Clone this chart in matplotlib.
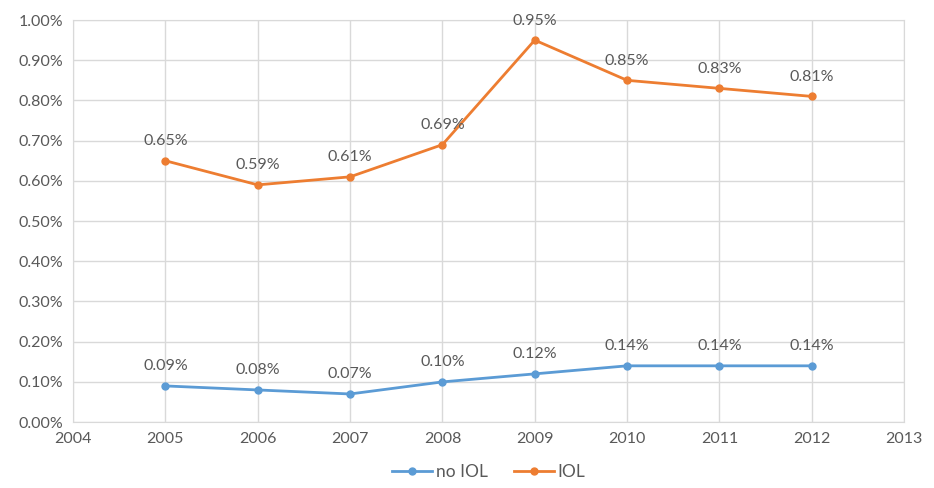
import matplotlib.pyplot as plt
from matplotlib.ticker import FuncFormatter

years = [2005, 2006, 2007, 2008, 2009, 2010, 2011, 2012]
no_iol = [0.09, 0.08, 0.07, 0.10, 0.12, 0.14, 0.14, 0.14]
iol = [0.65, 0.59, 0.61, 0.69, 0.95, 0.85, 0.83, 0.81]

plt.rcParams['font.family'] = ['Lato', 'DejaVu Sans']
texto = '#595959'

fig = plt.figure(figsize=(9.34, 4.88), dpi=100)
ax = fig.add_axes([0.0782, 0.135, 0.8898, 0.824])

ax.plot(years, no_iol, color='#5B9BD5', marker='o', markersize=5, linewidth=2, label='no IOL')
ax.plot(years, iol, color='#ED7D31', marker='o', markersize=5, linewidth=2, label='IOL')

for x, y in zip(years, no_iol):
    ax.annotate(f"{y:.2f}%", (x, y), xytext=(0, 9), textcoords='offset points',
                ha='center', va='bottom', fontsize=11.5, color=texto)
for x, y in zip(years, iol):
    ax.annotate(f"{y:.2f}%", (x, y), xytext=(0, 9), textcoords='offset points',
                ha='center', va='bottom', fontsize=11.5, color=texto)

ax.set_xlim(2004, 2013)
ax.set_ylim(0, 1.0)
ax.set_xticks(range(2004, 2014))
ax.set_yticks([i / 10 for i in range(11)])
ax.yaxis.set_major_formatter(FuncFormatter(lambda v, p: f"{v:.2f}%"))
ax.grid(True, color='#D9D9D9', linewidth=1)
ax.set_axisbelow(True)
for s in ax.spines.values():
    s.set_color('#D9D9D9')
ax.tick_params(length=0, labelsize=11.5, labelcolor=texto, pad=7)

ax.legend(loc='upper center', bbox_to_anchor=(0.5, -0.075), ncol=2, frameon=False,
          fontsize=12.5, labelcolor=texto, handlelength=2.3, columnspacing=1.5,
          handletextpad=0.2, borderpad=0.2)

fig.savefig('out.png', dpi=100)
